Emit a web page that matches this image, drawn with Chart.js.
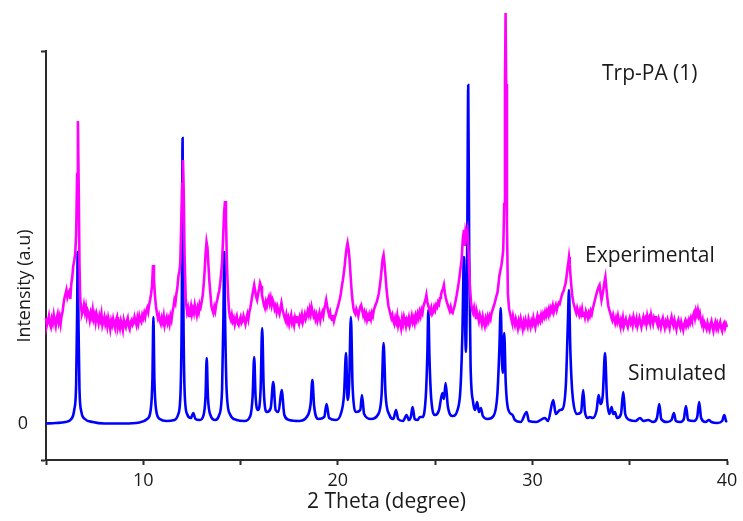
<!DOCTYPE html>
<html>
<head>
<meta charset="utf-8">
<title>Trp-PA (1) PXRD</title>
<script src="https://cdn.jsdelivr.net/npm/chart.js@4.4.1/dist/chart.umd.min.js"></script>
<style>
  html, body { margin: 0; padding: 0; background: #fff; }
  canvas { display: block; }
</style>
</head>
<body>
<canvas id="xrdChart" width="743" height="521"></canvas>
<script>
// 2θ (degree) / intensity (a.u.) pairs
const simulated = [
  [5.0,0.5],[5.5,1],[6.0,2],[6.3,5],[6.45,14],[6.55,40],[6.6,110],[6.63,172],[6.67,100],[6.72,35],
  [6.82,12],[7.0,5],[7.4,2],[8.0,0.5],[9.0,0.5],[9.8,1.5],[10.2,5],[10.38,14],[10.47,45],[10.52,107],
  [10.57,45],[10.66,14],[10.85,5],[11.2,3],[11.6,4],[11.8,10],[11.92,35],[11.98,120],[12.02,286],[12.06,120],
  [12.12,35],[12.25,10],[12.45,6],[12.57,11],[12.68,5],[12.9,4],[13.1,9],[13.2,28],[13.26,66],[13.32,28],
  [13.45,9],[13.7,4],[13.9,9],[14.05,35],[14.12,110],[14.16,172],[14.2,110],[14.28,35],[14.45,10],[14.8,4],
  [15.2,3],[15.5,8],[15.62,28],[15.7,67],[15.77,28],[15.9,14],[16.03,35],[16.11,96],[16.19,35],[16.35,12],
  [16.55,16],[16.68,42],[16.8,14],[16.95,12],[17.11,34],[17.25,9],[17.5,4],[18.0,3],[18.4,7],[18.6,20],
  [18.69,44],[18.78,18],[19.0,5],[19.3,7],[19.42,20],[19.55,6],[19.9,4],[20.15,10],[20.32,30],[20.42,71],
  [20.5,24],[20.58,40],[20.67,107],[20.76,36],[20.95,12],[21.15,14],[21.24,29],[21.35,10],[21.7,5],[22.05,9],
  [22.25,30],[22.35,81],[22.45,30],[22.65,9],[22.85,5],[22.99,14],[23.1,5],[23.35,3],[23.53,9],[23.65,4],
  [23.75,7],[23.84,17],[23.95,5],[24.1,4],[24.22,7],[24.35,7],[24.52,28],[24.6,70],[24.65,114],[24.71,65],
  [24.8,25],[25.0,9],[25.2,14],[25.37,31],[25.45,25],[25.54,41],[25.65,18],[25.9,8],[26.15,14],[26.3,35],
  [26.4,90],[26.48,167],[26.54,100],[26.58,72],[26.65,180],[26.7,339],[26.75,170],[26.82,60],[26.95,22],[27.05,14],
  [27.16,22],[27.25,12],[27.35,16],[27.45,8],[27.7,5],[28.0,8],[28.2,30],[28.3,75],[28.37,116],[28.44,60],
  [28.48,51],[28.55,91],[28.63,40],[28.75,15],[28.98,9],[29.1,4],[29.4,2],[29.7,12],[29.82,3],[30.2,2],
  [30.64,6],[30.8,3],[31.07,24],[31.2,10],[31.41,14],[31.55,15],[31.72,40],[31.82,100],[31.88,134],[31.94,80],
  [32.01,44],[32.1,22],[32.3,10],[32.5,12],[32.61,34],[32.7,12],[32.85,6],[32.95,7],[33.1,6],[33.3,14],
  [33.4,29],[33.5,20],[33.62,30],[33.73,71],[33.83,26],[33.95,10],[34.07,17],[34.15,10],[34.24,12],[34.35,6],
  [34.55,10],[34.67,32],[34.77,10],[35.0,4],[35.3,3],[35.53,6],[35.7,3],[35.95,4],[36.2,2],[36.4,6],
  [36.52,20],[36.62,5],[36.9,2],[37.15,4],[37.27,11],[37.37,3],[37.6,2],[37.78,5],[37.89,18],[38.0,4],
  [38.3,3],[38.47,7],[38.57,22],[38.67,6],[38.9,2],[39.07,4],[39.2,2],[39.5,1],[39.75,3],[39.86,9],
  [39.95,3],[40.0,2]
];

const experimental = [
  [5.0,106],[5.05,99],[5.1,103],[5.15,108],[5.2,100],[5.25,97],[5.3,105],[5.35,101],[5.4,109],[5.45,103],
  [5.5,98],[5.55,106],[5.6,110],[5.65,102],[5.7,107],[5.75,100],[5.8,108],[5.85,112],[5.9,120],[5.95,126],
  [6.0,130],[6.05,134],[6.1,127],[6.15,131],[6.2,133],[6.25,125],[6.3,140],[6.35,147],[6.4,158],[6.45,163],
  [6.5,170],[6.55,190],[6.6,250],[6.64,303],[6.68,240],[6.72,160],[6.76,125],[6.8,117],[6.85,110],[6.9,113],
  [6.95,119],[7.0,112],[7.05,117],[7.1,108],[7.15,113],[7.2,110],[7.25,104],[7.3,111],[7.35,107],[7.4,114],
  [7.45,105],[7.5,109],[7.55,102],[7.6,110],[7.65,106],[7.7,101],[7.75,108],[7.8,104],[7.85,110],[7.9,99],
  [7.95,103],[8.0,107],[8.05,100],[8.1,104],[8.15,98],[8.2,106],[8.25,101],[8.3,95],[8.35,103],[8.4,99],
  [8.45,105],[8.5,100],[8.55,96],[8.6,104],[8.65,107],[8.7,97],[8.75,101],[8.8,96],[8.85,103],[8.9,99],
  [8.95,94],[9.0,104],[9.05,100],[9.1,97],[9.15,103],[9.2,106],[9.25,98],[9.3,95],[9.35,102],[9.4,104],
  [9.45,99],[9.5,101],[9.55,107],[9.6,103],[9.65,99],[9.7,106],[9.75,101],[9.8,108],[9.85,104],[9.9,102],
  [9.95,109],[10.0,106],[10.05,111],[10.1,107],[10.15,113],[10.2,116],[10.25,112],[10.3,119],[10.35,124],[10.4,130],
  [10.45,138],[10.5,159],[10.55,145],[10.6,128],[10.65,118],[10.7,111],[10.75,106],[10.8,109],[10.85,103],[10.9,100],
  [10.95,106],[11.0,102],[11.05,108],[11.1,99],[11.15,104],[11.2,107],[11.25,101],[11.3,105],[11.35,100],[11.4,108],
  [11.45,104],[11.5,112],[11.55,117],[11.6,124],[11.65,121],[11.7,130],[11.75,136],[11.8,147],[11.85,152],[11.9,160],
  [11.95,200],[12.0,240],[12.04,264],[12.08,230],[12.12,170],[12.18,125],[12.25,112],[12.3,116],[12.35,108],[12.4,113],
  [12.45,118],[12.5,110],[12.55,115],[12.6,111],[12.65,119],[12.7,114],[12.75,109],[12.8,116],[12.85,112],[12.9,120],
  [12.95,117],[13.0,122],[13.05,128],[13.1,138],[13.15,152],[13.2,170],[13.25,182],[13.3,176],[13.35,158],[13.4,142],
  [13.45,130],[13.5,118],[13.55,114],[13.6,111],[13.65,117],[13.7,113],[13.75,120],[13.8,124],[13.85,129],[13.9,133],
  [13.95,140],[14.0,150],[14.05,162],[14.1,185],[14.15,210],[14.2,223],[14.25,205],[14.3,160],[14.35,132],[14.4,115],
  [14.45,107],[14.5,104],[14.55,109],[14.6,103],[14.65,106],[14.7,100],[14.75,105],[14.8,108],[14.85,101],[14.9,99],
  [14.95,104],[15.0,107],[15.05,101],[15.1,103],[15.15,108],[15.2,104],[15.25,100],[15.3,106],[15.35,110],[15.4,105],
  [15.45,112],[15.5,116],[15.55,122],[15.6,128],[15.65,134],[15.7,139],[15.75,133],[15.8,127],[15.85,124],[15.9,130],
  [15.95,135],[16.0,141],[16.05,138],[16.1,129],[16.15,124],[16.2,119],[16.25,116],[16.3,122],[16.35,118],[16.4,124],
  [16.45,127],[16.5,121],[16.55,126],[16.6,119],[16.65,124],[16.7,121],[16.75,115],[16.8,118],[16.85,112],[16.9,117],
  [16.95,113],[17.0,110],[17.05,116],[17.1,121],[17.15,115],[17.2,111],[17.25,107],[17.3,104],[17.35,109],[17.4,102],
  [17.45,106],[17.5,100],[17.55,105],[17.6,109],[17.65,101],[17.7,104],[17.75,99],[17.8,106],[17.85,102],[17.9,108],
  [17.95,103],[18.0,100],[18.05,107],[18.1,104],[18.15,109],[18.2,102],[18.25,106],[18.3,110],[18.35,105],[18.4,108],
  [18.45,113],[18.5,109],[18.55,115],[18.6,110],[18.65,117],[18.7,112],[18.75,108],[18.8,111],[18.85,105],[18.9,109],
  [18.95,103],[19.0,107],[19.05,111],[19.1,104],[19.15,109],[19.2,112],[19.25,108],[19.3,115],[19.35,119],[19.4,124],
  [19.45,118],[19.5,113],[19.55,109],[19.6,112],[19.65,106],[19.7,104],[19.75,109],[19.8,103],[19.85,107],[19.9,110],
  [19.95,114],[20.0,117],[20.05,121],[20.1,125],[20.15,130],[20.2,137],[20.25,143],[20.3,150],[20.35,158],[20.4,168],
  [20.45,176],[20.5,181],[20.55,175],[20.6,165],[20.65,150],[20.7,135],[20.75,124],[20.8,116],[20.85,112],[20.9,110],
  [20.95,115],[21.0,112],[21.05,108],[21.1,113],[21.15,117],[21.2,119],[21.25,114],[21.3,109],[21.35,112],[21.4,106],
  [21.45,110],[21.5,104],[21.55,108],[21.6,103],[21.65,109],[21.7,105],[21.75,111],[21.8,108],[21.85,114],[21.9,117],
  [21.95,120],[22.0,122],[22.05,126],[22.1,130],[22.15,137],[22.2,145],[22.25,155],[22.3,165],[22.35,169],[22.4,160],
  [22.45,148],[22.5,135],[22.55,126],[22.6,118],[22.65,114],[22.7,110],[22.75,106],[22.8,109],[22.85,103],[22.9,100],
  [22.95,106],[23.0,102],[23.05,108],[23.1,99],[23.15,104],[23.2,101],[23.25,96],[23.3,105],[23.35,100],[23.4,107],
  [23.45,103],[23.5,98],[23.55,104],[23.6,101],[23.65,106],[23.7,99],[23.75,103],[23.8,108],[23.85,102],[23.9,106],
  [23.95,101],[24.0,108],[24.05,104],[24.1,110],[24.15,106],[24.2,112],[24.25,108],[24.3,114],[24.35,111],[24.4,118],
  [24.45,121],[24.5,124],[24.55,129],[24.6,122],[24.65,118],[24.7,115],[24.75,112],[24.8,116],[24.85,110],[24.9,112],
  [24.95,117],[25.0,114],[25.05,119],[25.1,117],[25.15,122],[25.2,120],[25.25,126],[25.3,129],[25.35,133],[25.4,135],
  [25.45,139],[25.5,131],[25.55,126],[25.6,122],[25.65,119],[25.7,116],[25.75,113],[25.8,117],[25.85,112],[25.9,111],
  [25.95,115],[26.0,118],[26.05,123],[26.1,128],[26.15,134],[26.2,140],[26.25,147],[26.3,155],[26.36,164],[26.42,185],
  [26.48,194],[26.52,178],[26.56,192],[26.6,188],[26.66,194],[26.72,170],[26.78,140],[26.85,120],[26.9,114],[26.95,111],
  [27.0,116],[27.05,110],[27.1,106],[27.15,112],[27.2,108],[27.25,103],[27.3,109],[27.35,105],[27.4,100],[27.45,107],
  [27.5,102],[27.55,98],[27.6,105],[27.65,101],[27.7,107],[27.75,103],[27.8,108],[27.85,105],[27.9,111],[27.95,114],
  [28.0,117],[28.05,120],[28.1,124],[28.15,128],[28.2,131],[28.25,139],[28.3,148],[28.35,153],[28.4,158],[28.45,165],
  [28.5,174],[28.55,220],[28.59,340],[28.62,411],[28.65,340],[28.69,200],[28.74,130],[28.8,115],[28.85,111],[28.9,106],
  [28.95,102],[29.0,108],[29.05,103],[29.1,99],[29.15,105],[29.2,101],[29.25,96],[29.3,103],[29.35,99],[29.4,105],
  [29.45,100],[29.5,95],[29.55,102],[29.6,98],[29.65,104],[29.7,100],[29.75,97],[29.8,105],[29.85,101],[29.9,97],
  [29.95,103],[30.0,100],[30.05,106],[30.1,101],[30.15,97],[30.2,104],[30.25,108],[30.3,102],[30.35,106],[30.4,103],
  [30.45,109],[30.5,105],[30.55,110],[30.6,107],[30.65,112],[30.7,108],[30.75,113],[30.8,110],[30.85,115],[30.9,111],
  [30.95,116],[31.0,113],[31.05,118],[31.1,112],[31.15,116],[31.2,119],[31.25,114],[31.3,118],[31.35,121],[31.4,120],
  [31.45,124],[31.5,128],[31.55,131],[31.6,133],[31.65,137],[31.7,140],[31.75,147],[31.8,155],[31.85,162],[31.88,167],
  [31.92,160],[31.95,150],[32.0,138],[32.05,128],[32.1,122],[32.15,118],[32.2,114],[32.25,111],[32.3,116],[32.35,112],
  [32.4,109],[32.45,114],[32.5,110],[32.55,115],[32.6,108],[32.65,112],[32.7,107],[32.75,113],[32.8,110],[32.85,106],
  [32.9,111],[32.95,108],[33.0,113],[33.05,110],[33.1,115],[33.15,119],[33.2,123],[33.25,127],[33.3,131],[33.35,134],
  [33.4,137],[33.45,139],[33.5,131],[33.55,124],[33.6,129],[33.65,135],[33.7,142],[33.75,147],[33.8,136],[33.85,126],
  [33.9,118],[33.95,114],[34.0,111],[34.05,107],[34.1,104],[34.15,109],[34.2,105],[34.25,101],[34.3,106],[34.35,102],
  [34.4,108],[34.45,103],[34.5,99],[34.55,104],[34.6,100],[34.65,106],[34.7,98],[34.75,102],[34.8,105],[34.85,100],
  [34.9,97],[34.95,103],[35.0,106],[35.05,101],[35.1,104],[35.15,99],[35.2,107],[35.25,103],[35.3,100],[35.35,105],
  [35.4,98],[35.45,102],[35.5,106],[35.55,101],[35.6,97],[35.65,103],[35.7,107],[35.75,102],[35.8,105],[35.85,100],
  [35.9,108],[35.95,103],[36.0,106],[36.05,101],[36.1,109],[36.15,104],[36.2,100],[36.25,106],[36.3,103],[36.35,108],
  [36.4,101],[36.45,98],[36.5,105],[36.55,102],[36.6,97],[36.65,103],[36.7,106],[36.75,100],[36.8,96],[36.85,102],
  [36.9,99],[36.95,104],[37.0,100],[37.05,96],[37.1,103],[37.15,107],[37.2,101],[37.25,98],[37.3,104],[37.35,100],
  [37.4,95],[37.45,101],[37.5,104],[37.55,99],[37.6,96],[37.65,102],[37.7,98],[37.75,94],[37.8,100],[37.85,103],
  [37.9,98],[37.95,102],[38.0,99],[38.05,104],[38.1,101],[38.15,106],[38.2,103],[38.25,108],[38.3,111],[38.35,106],
  [38.4,113],[38.45,109],[38.5,114],[38.55,108],[38.6,111],[38.65,104],[38.7,100],[38.75,104],[38.8,97],[38.85,101],
  [38.9,98],[38.95,95],[39.0,101],[39.05,97],[39.1,94],[39.15,100],[39.2,103],[39.25,97],[39.3,93],[39.35,99],
  [39.4,102],[39.45,96],[39.5,100],[39.55,95],[39.6,99],[39.65,102],[39.7,96],[39.75,93],[39.8,99],[39.85,101],
  [39.9,96],[39.95,100],[40.0,97]
];

const xRange = [5, 40];
const yRange = [-36, 373];
const xLabelTicks = [10, 20, 30, 40];
const yLabelTicks = [0];

const AXIS = "#2b2b2b";
const FONT = "'Open Sans', 'Noto Sans', sans-serif";

// free text: sample name, curve names, y axis title
const notes = {
  id: "notes",
  afterDraw(chart) {
    const ctx = chart.ctx;
    ctx.save();
    ctx.fillStyle = "#1a1a1a";
    ctx.font = "21px " + FONT;
    ctx.textBaseline = "middle";
    ctx.textAlign = "left";
    ctx.fillText("Trp-PA (1)", 602, 74);
    ctx.fillText("Experimental", 585, 256);
    ctx.fillText("Simulated", 628, 374);
    ctx.translate(25, 286);
    ctx.rotate(-Math.PI / 2);
    ctx.textAlign = "center";
    ctx.font = "18px " + FONT;
    ctx.fillText("Intensity (a.u)", 0, 0);
    ctx.restore();
  },
};

new Chart(document.getElementById("xrdChart"), {
  type: "line",
  data: {
    datasets: [
      {
        label: "Experimental",
        data: experimental,
        borderColor: "#ff00ff",
        borderWidth: 2.6,
        pointRadius: 0,
        tension: 0,
        clip: false,
      },
      {
        label: "Simulated",
        data: simulated,
        borderColor: "#0000ff",
        borderWidth: 2.6,
        pointRadius: 0,
        cubicInterpolationMode: "monotone",
        clip: false,
      },
    ],
  },
  options: {
    responsive: false,
    animation: false,
    devicePixelRatio: 1,
    layout: { padding: { top: 51, right: 16, left: 0, bottom: 0 } },
    plugins: { legend: { display: false }, tooltip: { enabled: false } },
    scales: {
      x: {
        type: "linear",
        min: xRange[0], max: xRange[1],
        afterFit: (s) => { s.height = 61; },
        ticks: {
          stepSize: 5, maxRotation: 0, padding: 5,
          color: "#1a1a1a", font: { family: FONT, size: 18 },
          callback: (v) => (xLabelTicks.includes(v) ? String(v) : ""),
        },
        grid: { drawOnChartArea: false, tickLength: 5, tickWidth: 2, tickColor: AXIS },
        border: { color: AXIS, width: 2 },
        title: {
          display: true, text: "2 Theta (degree)", color: "#1a1a1a",
          font: { family: FONT, size: 21 }, padding: { top: 0, bottom: 6 },
        },
      },
      y: {
        type: "linear",
        min: yRange[0], max: yRange[1],
        afterFit: (s) => { s.width = 46; },
        afterBuildTicks: (s) => {
          s.ticks = [yRange[0]].concat(yLabelTicks, [yRange[1]]).map((v) => ({ value: v }));
        },
        ticks: {
          padding: 13, color: "#1a1a1a", font: { family: FONT, size: 18 },
          callback: (v) => (yLabelTicks.includes(v) ? String(v) : ""),
        },
        grid: {
          drawOnChartArea: false, tickLength: 5, tickWidth: 2,
          tickColor: (c) => (c.tick && yLabelTicks.includes(c.tick.value) ? "rgba(0,0,0,0)" : AXIS),
        },
        border: { color: AXIS, width: 2 },
      },
    },
  },
  plugins: [notes],
});
</script>
</body>
</html>
